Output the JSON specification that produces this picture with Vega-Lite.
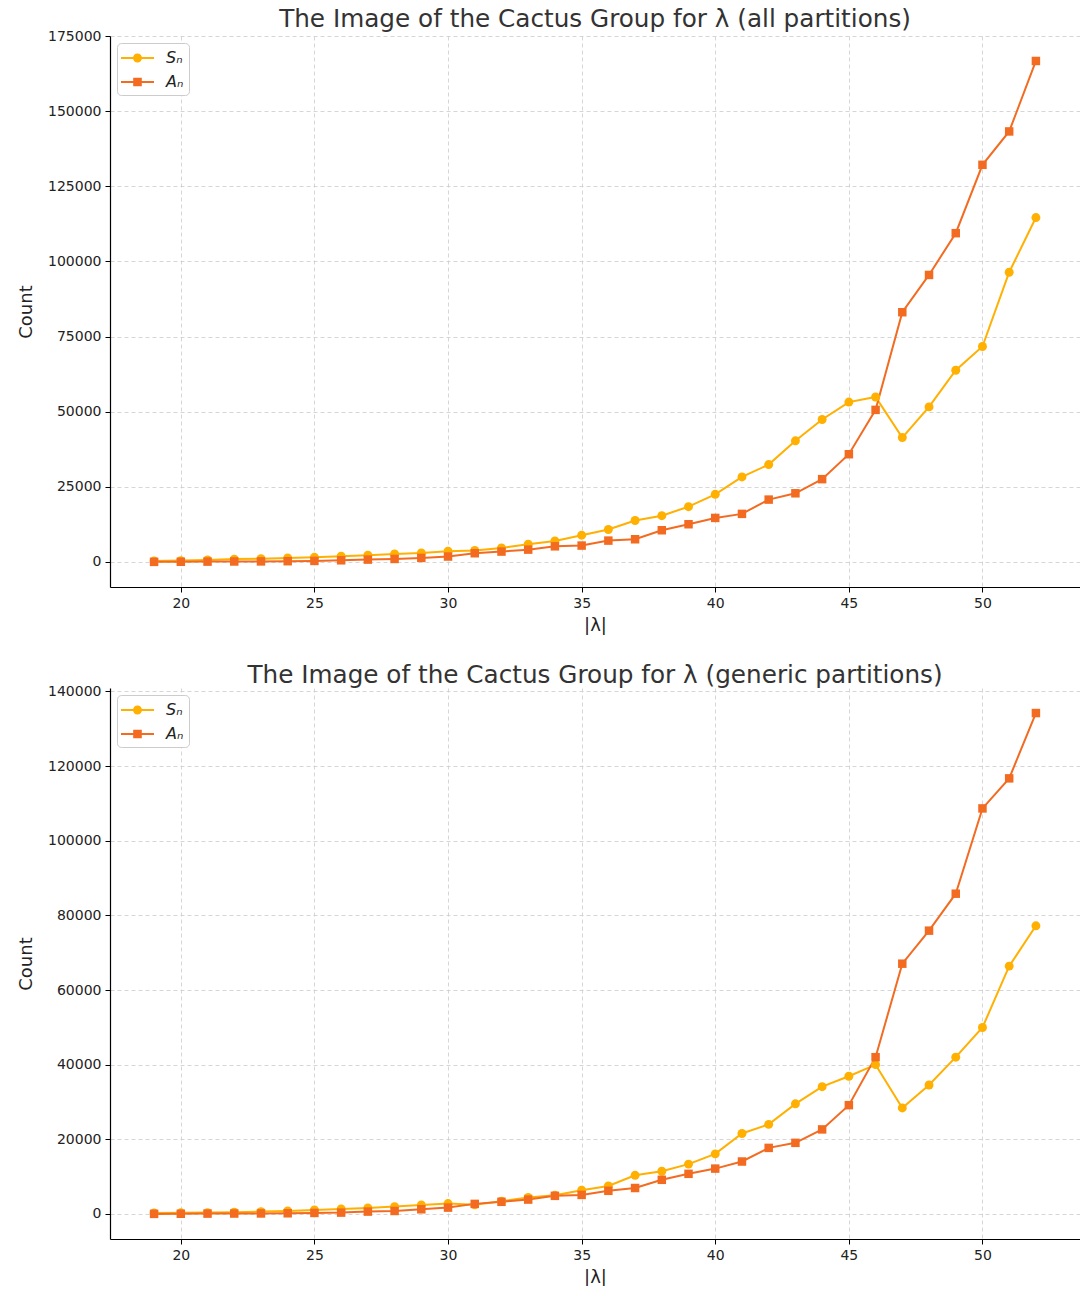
{
  "$schema": "https://vega.github.io/schema/vega-lite/v6.json",
  "padding": {"left": 17, "top": 7, "right": 0, "bottom": 0},
  "background": "white",
  "spacing": 28,
  "config": {
    "font": "DejaVu Sans",
    "view": {"stroke": null},
    "axis": {
      "labelFont": "DejaVu Sans", "labelFontSize": 14, "labelColor": "#222222",
      "titleFont": "DejaVu Sans", "titleFontSize": 18, "titleFontWeight": "normal", "titleColor": "#222222",
      "domainColor": "#000000", "domainWidth": 1.2, "tickColor": "#000000", "tickSize": 5, "tickWidth": 1,
      "gridColor": "#cccccc", "gridDash": [4, 3], "gridWidth": 0.8, "labelPadding": 4
    },
    "axisX": {"titlePadding": 6},
    "axisY": {"titlePadding": 12},
    "title": {"font": "DejaVu Sans", "fontSize": 24.7, "fontWeight": "normal", "color": "#333333", "offset": -3},
    "legend": {
      "orient": "top-left", "offset": 7, "fillColor": "white", "strokeColor": "#cccccc", "cornerRadius": 4,
      "padding": 5, "labelFont": "DejaVu Sans", "labelFontSize": 16, "labelFontStyle": "italic", "labelColor": "#222222",
      "symbolSize": 400, "symbolStrokeWidth": 0, "labelOffset": 24, "rowPadding": 6
    }
  },
  "datasets": {
    "all": [
      {"n":19,"series":"Sₙ","count":350},{"n":20,"series":"Sₙ","count":450},{"n":21,"series":"Sₙ","count":650},{"n":22,"series":"Sₙ","count":950},{"n":23,"series":"Sₙ","count":1100},{"n":24,"series":"Sₙ","count":1350},{"n":25,"series":"Sₙ","count":1550},{"n":26,"series":"Sₙ","count":1900},{"n":27,"series":"Sₙ","count":2250},{"n":28,"series":"Sₙ","count":2650},{"n":29,"series":"Sₙ","count":3000},{"n":30,"series":"Sₙ","count":3550},{"n":31,"series":"Sₙ","count":3800},{"n":32,"series":"Sₙ","count":4650},{"n":33,"series":"Sₙ","count":5900},{"n":34,"series":"Sₙ","count":7000},{"n":35,"series":"Sₙ","count":8900},{"n":36,"series":"Sₙ","count":10800},{"n":37,"series":"Sₙ","count":13800},{"n":38,"series":"Sₙ","count":15400},{"n":39,"series":"Sₙ","count":18400},{"n":40,"series":"Sₙ","count":22500},{"n":41,"series":"Sₙ","count":28300},{"n":42,"series":"Sₙ","count":32400},{"n":43,"series":"Sₙ","count":40300},{"n":44,"series":"Sₙ","count":47400},{"n":45,"series":"Sₙ","count":53200},{"n":46,"series":"Sₙ","count":54900},{"n":47,"series":"Sₙ","count":41400},{"n":48,"series":"Sₙ","count":51600},{"n":49,"series":"Sₙ","count":63800},{"n":50,"series":"Sₙ","count":71700},{"n":51,"series":"Sₙ","count":96400},{"n":52,"series":"Sₙ","count":114600},
      {"n":19,"series":"Aₙ","count":30},{"n":20,"series":"Aₙ","count":60},{"n":21,"series":"Aₙ","count":110},{"n":22,"series":"Aₙ","count":150},{"n":23,"series":"Aₙ","count":180},{"n":24,"series":"Aₙ","count":250},{"n":25,"series":"Aₙ","count":350},{"n":26,"series":"Aₙ","count":550},{"n":27,"series":"Aₙ","count":780},{"n":28,"series":"Aₙ","count":1000},{"n":29,"series":"Aₙ","count":1350},{"n":30,"series":"Aₙ","count":1800},{"n":31,"series":"Aₙ","count":2900},{"n":32,"series":"Aₙ","count":3450},{"n":33,"series":"Aₙ","count":4100},{"n":34,"series":"Aₙ","count":5200},{"n":35,"series":"Aₙ","count":5450},{"n":36,"series":"Aₙ","count":7100},{"n":37,"series":"Aₙ","count":7550},{"n":38,"series":"Aₙ","count":10550},{"n":39,"series":"Aₙ","count":12550},{"n":40,"series":"Aₙ","count":14650},{"n":41,"series":"Aₙ","count":16000},{"n":42,"series":"Aₙ","count":20750},{"n":43,"series":"Aₙ","count":22850},{"n":44,"series":"Aₙ","count":27550},{"n":45,"series":"Aₙ","count":35850},{"n":46,"series":"Aₙ","count":50600},{"n":47,"series":"Aₙ","count":83100},{"n":48,"series":"Aₙ","count":95500},{"n":49,"series":"Aₙ","count":109400},{"n":50,"series":"Aₙ","count":132150},{"n":51,"series":"Aₙ","count":143250},{"n":52,"series":"Aₙ","count":166700}
    ],
    "generic": [
      {"n":19,"series":"Sₙ","count":270},{"n":20,"series":"Sₙ","count":300},{"n":21,"series":"Sₙ","count":360},{"n":22,"series":"Sₙ","count":450},{"n":23,"series":"Sₙ","count":630},{"n":24,"series":"Sₙ","count":800},{"n":25,"series":"Sₙ","count":1080},{"n":26,"series":"Sₙ","count":1350},{"n":27,"series":"Sₙ","count":1600},{"n":28,"series":"Sₙ","count":1970},{"n":29,"series":"Sₙ","count":2420},{"n":30,"series":"Sₙ","count":2780},{"n":31,"series":"Sₙ","count":2450},{"n":32,"series":"Sₙ","count":3400},{"n":33,"series":"Sₙ","count":4400},{"n":34,"series":"Sₙ","count":5000},{"n":35,"series":"Sₙ","count":6370},{"n":36,"series":"Sₙ","count":7500},{"n":37,"series":"Sₙ","count":10350},{"n":38,"series":"Sₙ","count":11450},{"n":39,"series":"Sₙ","count":13350},{"n":40,"series":"Sₙ","count":16100},{"n":41,"series":"Sₙ","count":21550},{"n":42,"series":"Sₙ","count":24000},{"n":43,"series":"Sₙ","count":29500},{"n":44,"series":"Sₙ","count":34100},{"n":45,"series":"Sₙ","count":36900},{"n":46,"series":"Sₙ","count":40000},{"n":47,"series":"Sₙ","count":28400},{"n":48,"series":"Sₙ","count":34550},{"n":49,"series":"Sₙ","count":42000},{"n":50,"series":"Sₙ","count":49950},{"n":51,"series":"Sₙ","count":66400},{"n":52,"series":"Sₙ","count":77200},
      {"n":19,"series":"Aₙ","count":20},{"n":20,"series":"Aₙ","count":50},{"n":21,"series":"Aₙ","count":90},{"n":22,"series":"Aₙ","count":110},{"n":23,"series":"Aₙ","count":130},{"n":24,"series":"Aₙ","count":180},{"n":25,"series":"Aₙ","count":270},{"n":26,"series":"Aₙ","count":360},{"n":27,"series":"Aₙ","count":630},{"n":28,"series":"Aₙ","count":800},{"n":29,"series":"Aₙ","count":1250},{"n":30,"series":"Aₙ","count":1700},{"n":31,"series":"Aₙ","count":2700},{"n":32,"series":"Aₙ","count":3250},{"n":33,"series":"Aₙ","count":3850},{"n":34,"series":"Aₙ","count":4850},{"n":35,"series":"Aₙ","count":5100},{"n":36,"series":"Aₙ","count":6200},{"n":37,"series":"Aₙ","count":6950},{"n":38,"series":"Aₙ","count":9150},{"n":39,"series":"Aₙ","count":10750},{"n":40,"series":"Aₙ","count":12150},{"n":41,"series":"Aₙ","count":14050},{"n":42,"series":"Aₙ","count":17700},{"n":43,"series":"Aₙ","count":19050},{"n":44,"series":"Aₙ","count":22650},{"n":45,"series":"Aₙ","count":29150},{"n":46,"series":"Aₙ","count":42000},{"n":47,"series":"Aₙ","count":67050},{"n":48,"series":"Aₙ","count":75900},{"n":49,"series":"Aₙ","count":85800},{"n":50,"series":"Aₙ","count":108650},{"n":51,"series":"Aₙ","count":116700},{"n":52,"series":"Aₙ","count":134200}
    ]
  },
  "vconcat": [
    {
      "width": 970, "height": 551,
      "title": "The Image of the Cactus Group for λ (all partitions)",
      "data": {"name": "all"},
      "encoding": {
        "x": {"field": "n", "type": "quantitative", "scale": {"domain": [17.35, 53.65], "nice": false, "zero": false}, "axis": {"values": [20,25,30,35,40,45,50], "title": "|λ|"}},
        "y": {"field": "count", "type": "quantitative", "scale": {"domain": [-8334, 175009], "nice": false, "zero": false}, "axis": {"values": [0,25000,50000,75000,100000,125000,150000,175000], "format": "d", "title": "Count"}},
        "color": {"field": "series", "type": "nominal", "title": null, "scale": {"domain": ["Sₙ","Aₙ"], "range": ["#FFB000","#F26B21"]},
          "legend": {"encode": {"symbols": {"update": {"shape": {"signal": "datum.value === 'Sₙ' ? 'M-1.1,-0.1H0.2V0.1H-1.1Z M0.9,-0.1H2.2V0.1H0.9Z M1.0,0A0.45,0.45,0,1,1,0.1,0A0.45,0.45,0,1,1,1.0,0Z' : 'M-1.1,-0.1H2.2V0.1H-1.1Z M0.12,-0.43H0.98V0.43H0.12Z'"}, "strokeWidth": {"value": 0}}}}}}
      },
      "layer": [
        {"mark": {"type": "line", "strokeWidth": 2}},
        {"transform": [{"filter": "datum.series === 'Sₙ'"}], "mark": {"type": "point", "shape": "circle", "filled": true, "opacity": 1, "size": 80}},
        {"transform": [{"filter": "datum.series === 'Aₙ'"}], "mark": {"type": "point", "shape": "square", "filled": true, "opacity": 1, "size": 72}}
      ]
    },
    {
      "width": 970, "height": 551,
      "title": "The Image of the Cactus Group for λ (generic partitions)",
      "data": {"name": "generic"},
      "encoding": {
        "x": {"field": "n", "type": "quantitative", "scale": {"domain": [17.35, 53.65], "nice": false, "zero": false}, "axis": {"values": [20,25,30,35,40,45,50], "title": "|λ|"}},
        "y": {"field": "count", "type": "quantitative", "scale": {"domain": [-6710, 140910], "nice": false, "zero": false}, "axis": {"values": [0,20000,40000,60000,80000,100000,120000,140000], "format": "d", "title": "Count"}},
        "color": {"field": "series", "type": "nominal", "title": null, "scale": {"domain": ["Sₙ","Aₙ"], "range": ["#FFB000","#F26B21"]},
          "legend": {"encode": {"symbols": {"update": {"shape": {"signal": "datum.value === 'Sₙ' ? 'M-1.1,-0.1H0.2V0.1H-1.1Z M0.9,-0.1H2.2V0.1H0.9Z M1.0,0A0.45,0.45,0,1,1,0.1,0A0.45,0.45,0,1,1,1.0,0Z' : 'M-1.1,-0.1H2.2V0.1H-1.1Z M0.12,-0.43H0.98V0.43H0.12Z'"}, "strokeWidth": {"value": 0}}}}}}
      },
      "layer": [
        {"mark": {"type": "line", "strokeWidth": 2}},
        {"transform": [{"filter": "datum.series === 'Sₙ'"}], "mark": {"type": "point", "shape": "circle", "filled": true, "opacity": 1, "size": 80}},
        {"transform": [{"filter": "datum.series === 'Aₙ'"}], "mark": {"type": "point", "shape": "square", "filled": true, "opacity": 1, "size": 72}}
      ]
    }
  ],
  "resolve": {"scale": {"color": "independent"}}
}
